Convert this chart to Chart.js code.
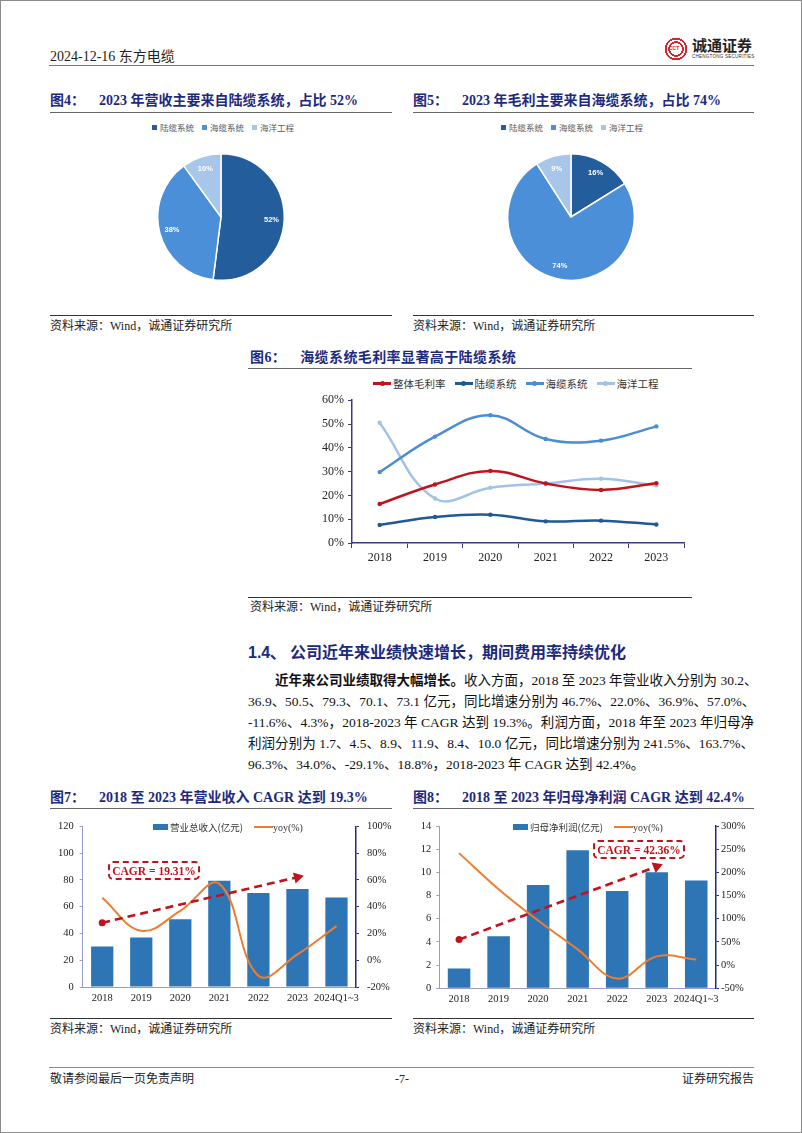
<!DOCTYPE html>
<html lang="zh-CN">
<head>
<meta charset="utf-8">
<title>东方电缆 2024-12-16</title>
<script src="https://cdn.jsdelivr.net/npm/chart.js@4.4.1/dist/chart.umd.min.js"></script>
<style>
html,body{margin:0;padding:0;background:#fff;}
#page{position:relative;width:802px;height:1133px;overflow:hidden;background:#fff;font-family:"Liberation Serif","Noto Sans CJK SC",serif;color:#222;}
#frame{position:absolute;left:0;top:0;right:0;bottom:0;border:1px solid #8c8c8c;pointer-events:none;}
.a{position:absolute;white-space:nowrap;}
.rule{position:absolute;height:0;}
.title{position:absolute;white-space:nowrap;font-weight:bold;color:#1c2a7e;font-size:14px;line-height:18px;}
.title .gap{display:inline-block;width:14px;}
.src{position:absolute;white-space:nowrap;font-size:12px;line-height:14px;color:#222;}
canvas{position:absolute;}
.leg{position:absolute;display:flex;align-items:center;white-space:nowrap;font-family:"Noto Sans CJK SC",sans-serif;}
.para{position:absolute;font-size:13.5px;line-height:18px;white-space:nowrap;text-align:justify;text-align-last:justify;color:#111;}
.cagr{position:absolute;box-sizing:border-box;border:2px dashed #c0141c;border-radius:5px;color:#c0141c;font:bold 11.5px "Liberation Serif",serif;display:flex;align-items:center;justify-content:center;}
</style>
</head>
<body>
<div id="page">

<!-- header -->
<div class="a" style="left:50px;top:48px;font-size:14px;line-height:18px;">2024-12-16 东方电缆</div>
<div class="a" style="left:664px;top:37px;width:24px;height:24px;border-radius:50%;background:radial-gradient(circle,#fff 0 34%,#d7262b 35% 45%,#fff 46% 55%,#d7262b 56% 66%,#fff 67% 75%,#d7262b 76% 100%);"></div>
<div class="a" style="left:669px;top:45px;font:bold 5px 'Liberation Sans',sans-serif;color:#d7262b;line-height:7px;">CCT</div>
<div class="a" style="left:692px;top:36px;font:bold 15px 'Noto Sans CJK SC',sans-serif;color:#222;line-height:18px;">诚通证券</div>
<div class="a" style="left:692px;top:54px;font:4.6px 'Liberation Sans',sans-serif;color:#333;line-height:6px;letter-spacing:0.2px;">CHENGTONG SECURITIES</div>
<div class="rule" style="left:49px;width:705px;top:65px;border-top:1px solid #777;"></div>

<!-- fig 4 / 5 -->
<div class="title" style="left:50px;top:92px;">图4：<span class="gap"></span>2023 年营收主要来自陆缆系统，占比 52%</div>
<div class="title" style="left:413px;top:92px;">图5：<span class="gap"></span>2023 年毛利主要来自海缆系统，占比 74%</div>
<div class="rule" style="left:50px;width:342px;top:112px;border-top:1px solid #666;"></div>
<div class="rule" style="left:413px;width:341px;top:112px;border-top:1px solid #666;"></div>
<div class="leg" id="leg4" style="top:121px;font-size:8.5px;color:#5a5a5a;"></div>
<div class="leg" id="leg5" style="top:121px;font-size:8.5px;color:#5a5a5a;"></div>
<canvas id="c4" width="128" height="128" style="left:157px;top:153px;"></canvas>
<canvas id="c5" width="128" height="128" style="left:507px;top:153px;"></canvas>
<div class="rule" style="left:50px;width:342px;top:315px;border-top:1.5px solid #333;"></div>
<div class="rule" style="left:413px;width:341px;top:315px;border-top:1.5px solid #333;"></div>
<div class="src" style="left:50px;top:319px;">资料来源：Wind，诚通证券研究所</div>
<div class="src" style="left:413px;top:319px;">资料来源：Wind，诚通证券研究所</div>

<!-- fig 6 -->
<div class="title" style="left:250px;top:349px;letter-spacing:0.4px;">图6：<span class="gap"></span>海缆系统毛利率显著高于陆缆系统</div>
<div class="rule" style="left:248px;width:444px;top:368px;border-top:1px solid #666;"></div>
<div class="leg" id="leg6" style="left:373px;top:376px;font-size:10.5px;color:#333;gap:9px;"></div>
<canvas id="c6" width="405" height="180" style="left:285px;top:389px;"></canvas>
<div class="rule" style="left:248px;width:444px;top:597px;border-top:1.5px solid #333;"></div>
<div class="src" style="left:250px;top:600px;">资料来源：Wind，诚通证券研究所</div>

<!-- section text -->
<div class="a" style="left:248px;top:641px;font:bold 16px 'Noto Sans CJK SC',sans-serif;color:#1c2a7e;line-height:20px;"><span style="font-family:'Liberation Sans',sans-serif;">1.4、</span> 公司近年来业绩快速增长，期间费用率持续优化</div>
<div class="para" style="left:275px;width:479px;top:672px;"><b>近年来公司业绩取得大幅增长。</b>收入方面，2018 至 2023 年营业收入分别为 30.2、</div>
<div class="para" style="left:248px;width:506px;top:693px;">36.9、50.5、79.3、70.1、73.1 亿元，同比增速分别为 46.7%、22.0%、36.9%、57.0%、</div>
<div class="para" style="left:248px;width:506px;top:714px;">-11.6%、4.3%，2018-2023 年 CAGR 达到 19.3%。利润方面，2018 年至 2023 年归母净</div>
<div class="para" style="left:248px;width:506px;top:735px;">利润分别为 1.7、4.5、8.9、11.9、8.4、10.0 亿元，同比增速分别为 241.5%、163.7%、</div>
<div class="para" style="left:248px;width:506px;top:756px;text-align-last:left;">96.3%、34.0%、-29.1%、18.8%，2018-2023 年 CAGR 达到 42.4%。</div>

<!-- fig 7 / 8 -->
<div class="title" style="left:50px;top:789px;">图7：<span class="gap"></span>2018 至 2023 年营业收入 CAGR 达到 19.3%</div>
<div class="title" style="left:413px;top:789px;">图8：<span class="gap"></span>2018 至 2023 年归母净利润 CAGR 达到 42.4%</div>
<div class="rule" style="left:50px;width:342px;top:808px;border-top:1px solid #666;"></div>
<div class="rule" style="left:413px;width:341px;top:808px;border-top:1px solid #666;"></div>
<canvas id="c7" width="352" height="200" style="left:45px;top:812px;"></canvas>
<canvas id="c8" width="356" height="200" style="left:402px;top:812px;"></canvas>
<div class="leg" id="leg7" style="left:153px;top:820px;font-size:9.5px;color:#333;"></div>
<div class="leg" id="leg8" style="left:513px;top:820px;font-size:9.5px;color:#333;"></div>
<div class="cagr" style="left:108px;top:861px;width:92px;height:19px;">CAGR = 19.31%</div>
<div class="cagr" style="left:593px;top:840px;width:92px;height:19px;">CAGR = 42.36%</div>
<div class="rule" style="left:50px;width:342px;top:1018px;border-top:1.5px solid #333;"></div>
<div class="rule" style="left:413px;width:341px;top:1018px;border-top:1.5px solid #333;"></div>
<div class="src" style="left:50px;top:1022px;">资料来源：Wind，诚通证券研究所</div>
<div class="src" style="left:413px;top:1022px;">资料来源：Wind，诚通证券研究所</div>

<!-- footer -->
<div class="rule" style="left:49px;width:705px;top:1067px;border-top:1.5px solid #8a8a8a;"></div>
<div class="a" style="left:50px;top:1072px;font-size:12px;line-height:14px;">敬请参阅最后一页免责声明</div>
<div class="a" style="left:392px;top:1072px;font-size:12px;line-height:14px;width:20px;text-align:center;">-7-</div>
<div class="a" style="right:48px;top:1072px;font-size:12px;line-height:14px;">证券研究报告</div>

<div id="frame"></div>
</div>

<script>
// ---------- data ----------
const segmentNames = ['陆缆系统', '海缆系统', '海洋工程'];
const revenueShare2023 = [52, 38, 10];        // 图4 营收占比 (%)
const grossProfitShare2023 = [16, 74, 9];     // 图5 毛利占比 (%)

const marginYears = ['2018', '2019', '2020', '2021', '2022', '2023'];
const marginNames = ['整体毛利率', '陆缆系统', '海缆系统', '海洋工程'];
const marginTotal  = [16.4, 24.6, 30.3, 25.0, 22.3, 25.1];
const marginLand   = [7.6, 10.9, 11.9, 9.1, 9.4, 7.8];
const marginSubsea = [29.8, 44.7, 53.7, 43.7, 43.0, 49.0];
const marginMarine = [50.5, 18.7, 23.2, 25.0, 27.0, 24.2];

const periods = ['2018', '2019', '2020', '2021', '2022', '2023', '2024Q1~3'];
const revenueNames = ['营业总收入(亿元)', 'yoy(%)'];
const revenue    = [30.2, 36.9, 50.5, 79.3, 70.1, 73.1, 66.8];
const revenueYoy = [46.7, 22.0, 36.9, 57.0, -11.6, 4.3, 25.5];
const revenueCagrTrend = [48, null, null, null, null, 82, null];

const profitNames = ['归母净利润(亿元)', 'yoy(%)'];
const netProfit    = [1.7, 4.5, 8.9, 11.9, 8.4, 10.0, 9.3];
const netProfitYoy = [241.5, 163.7, 96.3, 34.0, -29.1, 18.8, 12.0];
const profitCagrTrend = [4.2, null, null, null, null, 10.5, null];

// ---------- styles ----------
const pieColors = ['#245d9c', '#4a8fd8', '#a8c6e9'];
const marginColors = ['#c0141c', '#1f5996', '#4b8dd2', '#a3c3e6'];
const barColor = '#2e75b6';
const yoyColor = '#ef7d31';
const arrowColor = '#c0141c';
const serif = '"Liberation Serif", "Noto Sans CJK SC", serif';

Chart.defaults.font.family = serif;
Chart.defaults.color = '#222';

// ---------- legends (HTML) ----------
function pieLegend(id, centerX) {
  const el = document.getElementById(id);
  segmentNames.forEach((n, i) => {
    const it = document.createElement('span');
    it.style.cssText = 'display:inline-flex;align-items:center;margin:0 4px;';
    it.innerHTML = '<span style="display:inline-block;width:5px;height:5px;background:' + pieColors[i] + ';margin-right:3px;"></span>' + n;
    el.appendChild(it);
  });
  el.style.left = (centerX - el.offsetWidth / 2) + 'px';
}
pieLegend('leg4', 223);
pieLegend('leg5', 572);

(function () {
  const el = document.getElementById('leg6');
  marginNames.forEach((n, i) => {
    const it = document.createElement('span');
    it.style.cssText = 'display:inline-flex;align-items:center;';
    it.innerHTML = '<span style="position:relative;display:inline-block;width:18px;height:2.5px;background:' + marginColors[i] + ';margin-right:2px;">' +
      '<span style="position:absolute;left:6.5px;top:-1.5px;width:5px;height:5px;border-radius:50%;background:' + marginColors[i] + ';"></span></span>' + n;
    el.appendChild(it);
  });
})();

function comboLegend(id, names) {
  const el = document.getElementById(id);
  el.innerHTML =
    '<span style="display:inline-block;width:15px;height:6px;background:' + barColor + ';margin-right:2px;"></span>' + names[0] +
    '<span style="display:inline-block;width:19px;height:2px;background:' + yoyColor + ';margin-left:11px;"></span>' +
    '<span style="font-family:' + serif.replace(/"/g, "'") + ';font-size:10px;">' + names[1] + '</span>';
}
comboLegend('leg7', revenueNames);
comboLegend('leg8', profitNames);

// ---------- plugins ----------
const pieLabels = {
  id: 'pieLabels',
  afterDatasetsDraw(chart) {
    const ctx = chart.ctx;
    const meta = chart.getDatasetMeta(0);
    const data = chart.data.datasets[0].data;
    ctx.save();
    ctx.fillStyle = '#ffffff';
    ctx.font = 'bold 7.5px "Liberation Sans", sans-serif';
    ctx.textAlign = 'center';
    ctx.textBaseline = 'middle';
    meta.data.forEach((arc, i) => {
      const p = arc.getProps(['x', 'y', 'startAngle', 'endAngle', 'outerRadius'], true);
      const a = (p.startAngle + p.endAngle) / 2;
      const r = p.outerRadius * 0.8;
      ctx.fillText(data[i] + '%', p.x + Math.cos(a) * r, p.y + Math.sin(a) * r);
    });
    ctx.restore();
  }
};

function pie(id, values) {
  new Chart(document.getElementById(id), {
    type: 'pie',
    data: { labels: segmentNames, datasets: [{ data: values, backgroundColor: pieColors, borderColor: '#ffffff', borderWidth: 1.5 }] },
    options: {
      responsive: false, animation: false, devicePixelRatio: 1,
      layout: { padding: 0 },
      plugins: { legend: { display: false }, tooltip: { enabled: false } }
    },
    plugins: [pieLabels]
  });
}
pie('c4', revenueShare2023);
pie('c5', grossProfitShare2023);

// ---------- fig 6 ----------
const axis6 = '#3a3a8c';
new Chart(document.getElementById('c6'), {
  type: 'line',
  data: {
    labels: marginYears,
    datasets: [marginTotal, marginLand, marginSubsea, marginMarine].map((d, i) => ({
      label: marginNames[i], data: d,
      borderColor: marginColors[i], backgroundColor: marginColors[i],
      borderWidth: 2.5, pointRadius: 2.2, pointBorderWidth: 0, tension: 0.4
    }))
  },
  options: {
    responsive: false, animation: false, devicePixelRatio: 1,
    layout: { padding: { top: 8, right: 6, left: 0, bottom: 0 } },
    plugins: { legend: { display: false }, tooltip: { enabled: false } },
    scales: {
      x: {
        offset: true,
        grid: { offset: true, drawOnChartArea: false, drawTicks: true, tickLength: 5, color: axis6 },
        border: { color: axis6, width: 1.5 },
        ticks: { font: { size: 12 }, color: '#222', padding: 3, maxRotation: 0 },
        afterFit: s => { s.height = 26; }
      },
      y: {
        min: 0, max: 60,
        ticks: { stepSize: 10, callback: v => v + '%', font: { size: 12 }, color: '#222', padding: 4 },
        grid: { drawOnChartArea: false, tickLength: 4, color: axis6 },
        border: { color: axis6, width: 1.5 },
        afterFit: s => { s.width = 67; }
      }
    }
  }
});

// ---------- fig 7 / 8 ----------
function combo(id, bars, yoy, trend, rot, leftMax, leftStep, rightMin, rightMax, rightStep, dims) {
  const light = '#9a9acb', dark = '#26267a';
  new Chart(document.getElementById(id), {
    type: 'bar',
    data: {
      labels: periods,
      datasets: [
        {
          type: 'line', data: trend, yAxisID: 'y', order: 0, spanGaps: true,
          borderColor: arrowColor, backgroundColor: arrowColor, borderWidth: 2.6, borderDash: [8, 5], tension: 0,
          pointRadius: trend.map((v, i) => i === 0 ? 3.5 : (v === null ? 0 : 6.5)),
          pointStyle: trend.map((v, i) => i === 0 ? 'circle' : 'triangle'),
          pointRotation: trend.map((v, i) => i === 0 ? 0 : rot),
          pointBorderWidth: 0
        },
        {
          type: 'line', data: yoy, yAxisID: 'y1', order: 1,
          borderColor: yoyColor, borderWidth: 2, pointRadius: 0, tension: 0.4
        },
        {
          type: 'bar', data: bars, yAxisID: 'y', order: 2,
          backgroundColor: barColor, barPercentage: 0.57, categoryPercentage: 1
        }
      ]
    },
    options: {
      responsive: false, animation: false, devicePixelRatio: 1,
      layout: { padding: { top: 14, right: 0, left: 0, bottom: 0 } },
      plugins: { legend: { display: false }, tooltip: { enabled: false } },
      scales: {
        x: {
          grid: { drawOnChartArea: false, drawTicks: false },
          border: { color: light, width: 1 },
          ticks: { autoSkip: false, maxRotation: 0, font: { size: 10.5 }, color: '#222', padding: 5 },
          afterFit: s => { s.height = dims.xh; }
        },
        y: {
          position: 'left', min: 0, max: leftMax,
          ticks: { stepSize: leftStep, font: { size: 10.5 }, color: '#222', padding: dims.lp },
          grid: { drawOnChartArea: false, tickLength: 3, color: light },
          border: { color: light, width: 1 },
          afterFit: s => { s.width = dims.lw; }
        },
        y1: {
          position: 'right', min: rightMin, max: rightMax,
          ticks: { stepSize: rightStep, callback: v => v + '%', font: { size: 10.5 }, color: '#222', padding: dims.rp },
          grid: { drawOnChartArea: false, tickLength: 3, color: dark },
          border: { color: dark, width: 1.5 },
          afterFit: s => { s.width = dims.rw; }
        }
      }
    }
  });
}
combo('c7', revenue, revenueYoy, revenueCagrTrend, 76.5, 120, 20, -20, 100, 20, { xh: 25, lw: 37.7, rw: 41, lp: 6, rp: 8 });
combo('c8', netProfit, netProfitYoy, profitCagrTrend, 69.4, 14, 2, -50, 300, 50, { xh: 23.7, lw: 37.3, rw: 42, lp: 5, rp: 2 });
</script>
</body>
</html>
